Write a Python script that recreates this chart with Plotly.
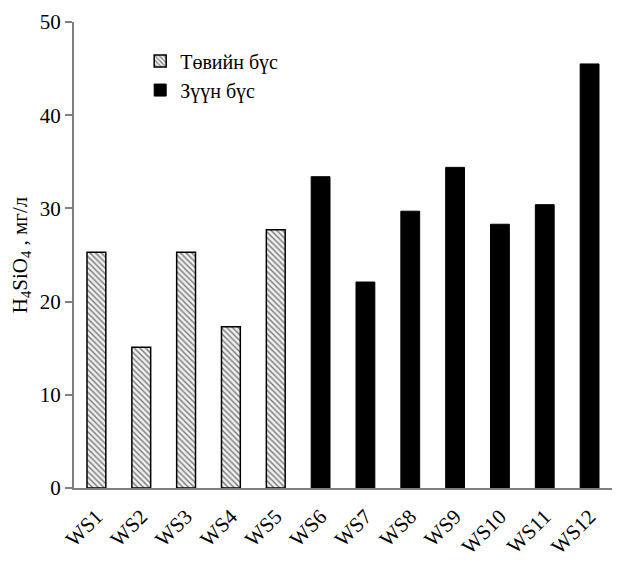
import plotly.graph_objects as go

cats_west = ["WS1", "WS2", "WS3", "WS4", "WS5"]
vals_west = [25.3, 15.1, 25.3, 17.3, 27.7]
cats_east = ["WS6", "WS7", "WS8", "WS9", "WS10", "WS11", "WS12"]
vals_east = [33.4, 22.1, 29.7, 34.4, 28.3, 30.4, 45.5]
all_cats = cats_west + cats_east

font_family = "Liberation Serif"

fig = go.Figure()
fig.add_trace(go.Bar(
    x=cats_west, y=vals_west, name="Төвийн бүс", width=0.42,
    marker=dict(color="#e8e8e8", line=dict(color="black", width=1.5),
                pattern=dict(shape="\\", fgcolor="black", bgcolor="#f0f0f0",
                             size=4, solidity=0.35)),
))
fig.add_trace(go.Bar(
    x=cats_east, y=vals_east, name="Зүүн бүс", width=0.42,
    marker=dict(color="black", line=dict(color="black", width=1)),
))

fig.update_layout(
    width=619, height=555,
    margin=dict(l=66, r=15, t=14, b=75, autoexpand=False),
    plot_bgcolor="white", paper_bgcolor="white",
    barmode="overlay",
    font=dict(family=font_family, size=20, color="black"),
    legend=dict(x=0.123, y=0.958, xanchor="left", yanchor="top",
                font=dict(family=font_family, size=20),
                bgcolor="rgba(0,0,0,0)", itemwidth=30),
    showlegend=True,
)
fig.update_xaxes(
    categoryorder="array", categoryarray=all_cats,
    showline=True, linecolor="#808080", linewidth=2,
    ticks="outside", ticklen=6, tickcolor="rgba(0,0,0,0)",
    tickangle=-45, tickfont=dict(size=21, family=font_family),
    showgrid=False,
)
fig.update_yaxes(
    range=[0, 50], dtick=10,
    showline=True, linecolor="#808080", linewidth=2,
    ticks="outside", ticklen=7, tickwidth=2, tickcolor="#808080",
    tickfont=dict(size=21, family=font_family),
    showgrid=False, zeroline=False,
    title=dict(text="H<sub>4</sub>SiO<sub>4</sub> , мг/л",
               font=dict(size=21, family=font_family), standoff=8),
)

fig.write_html("out.html")
